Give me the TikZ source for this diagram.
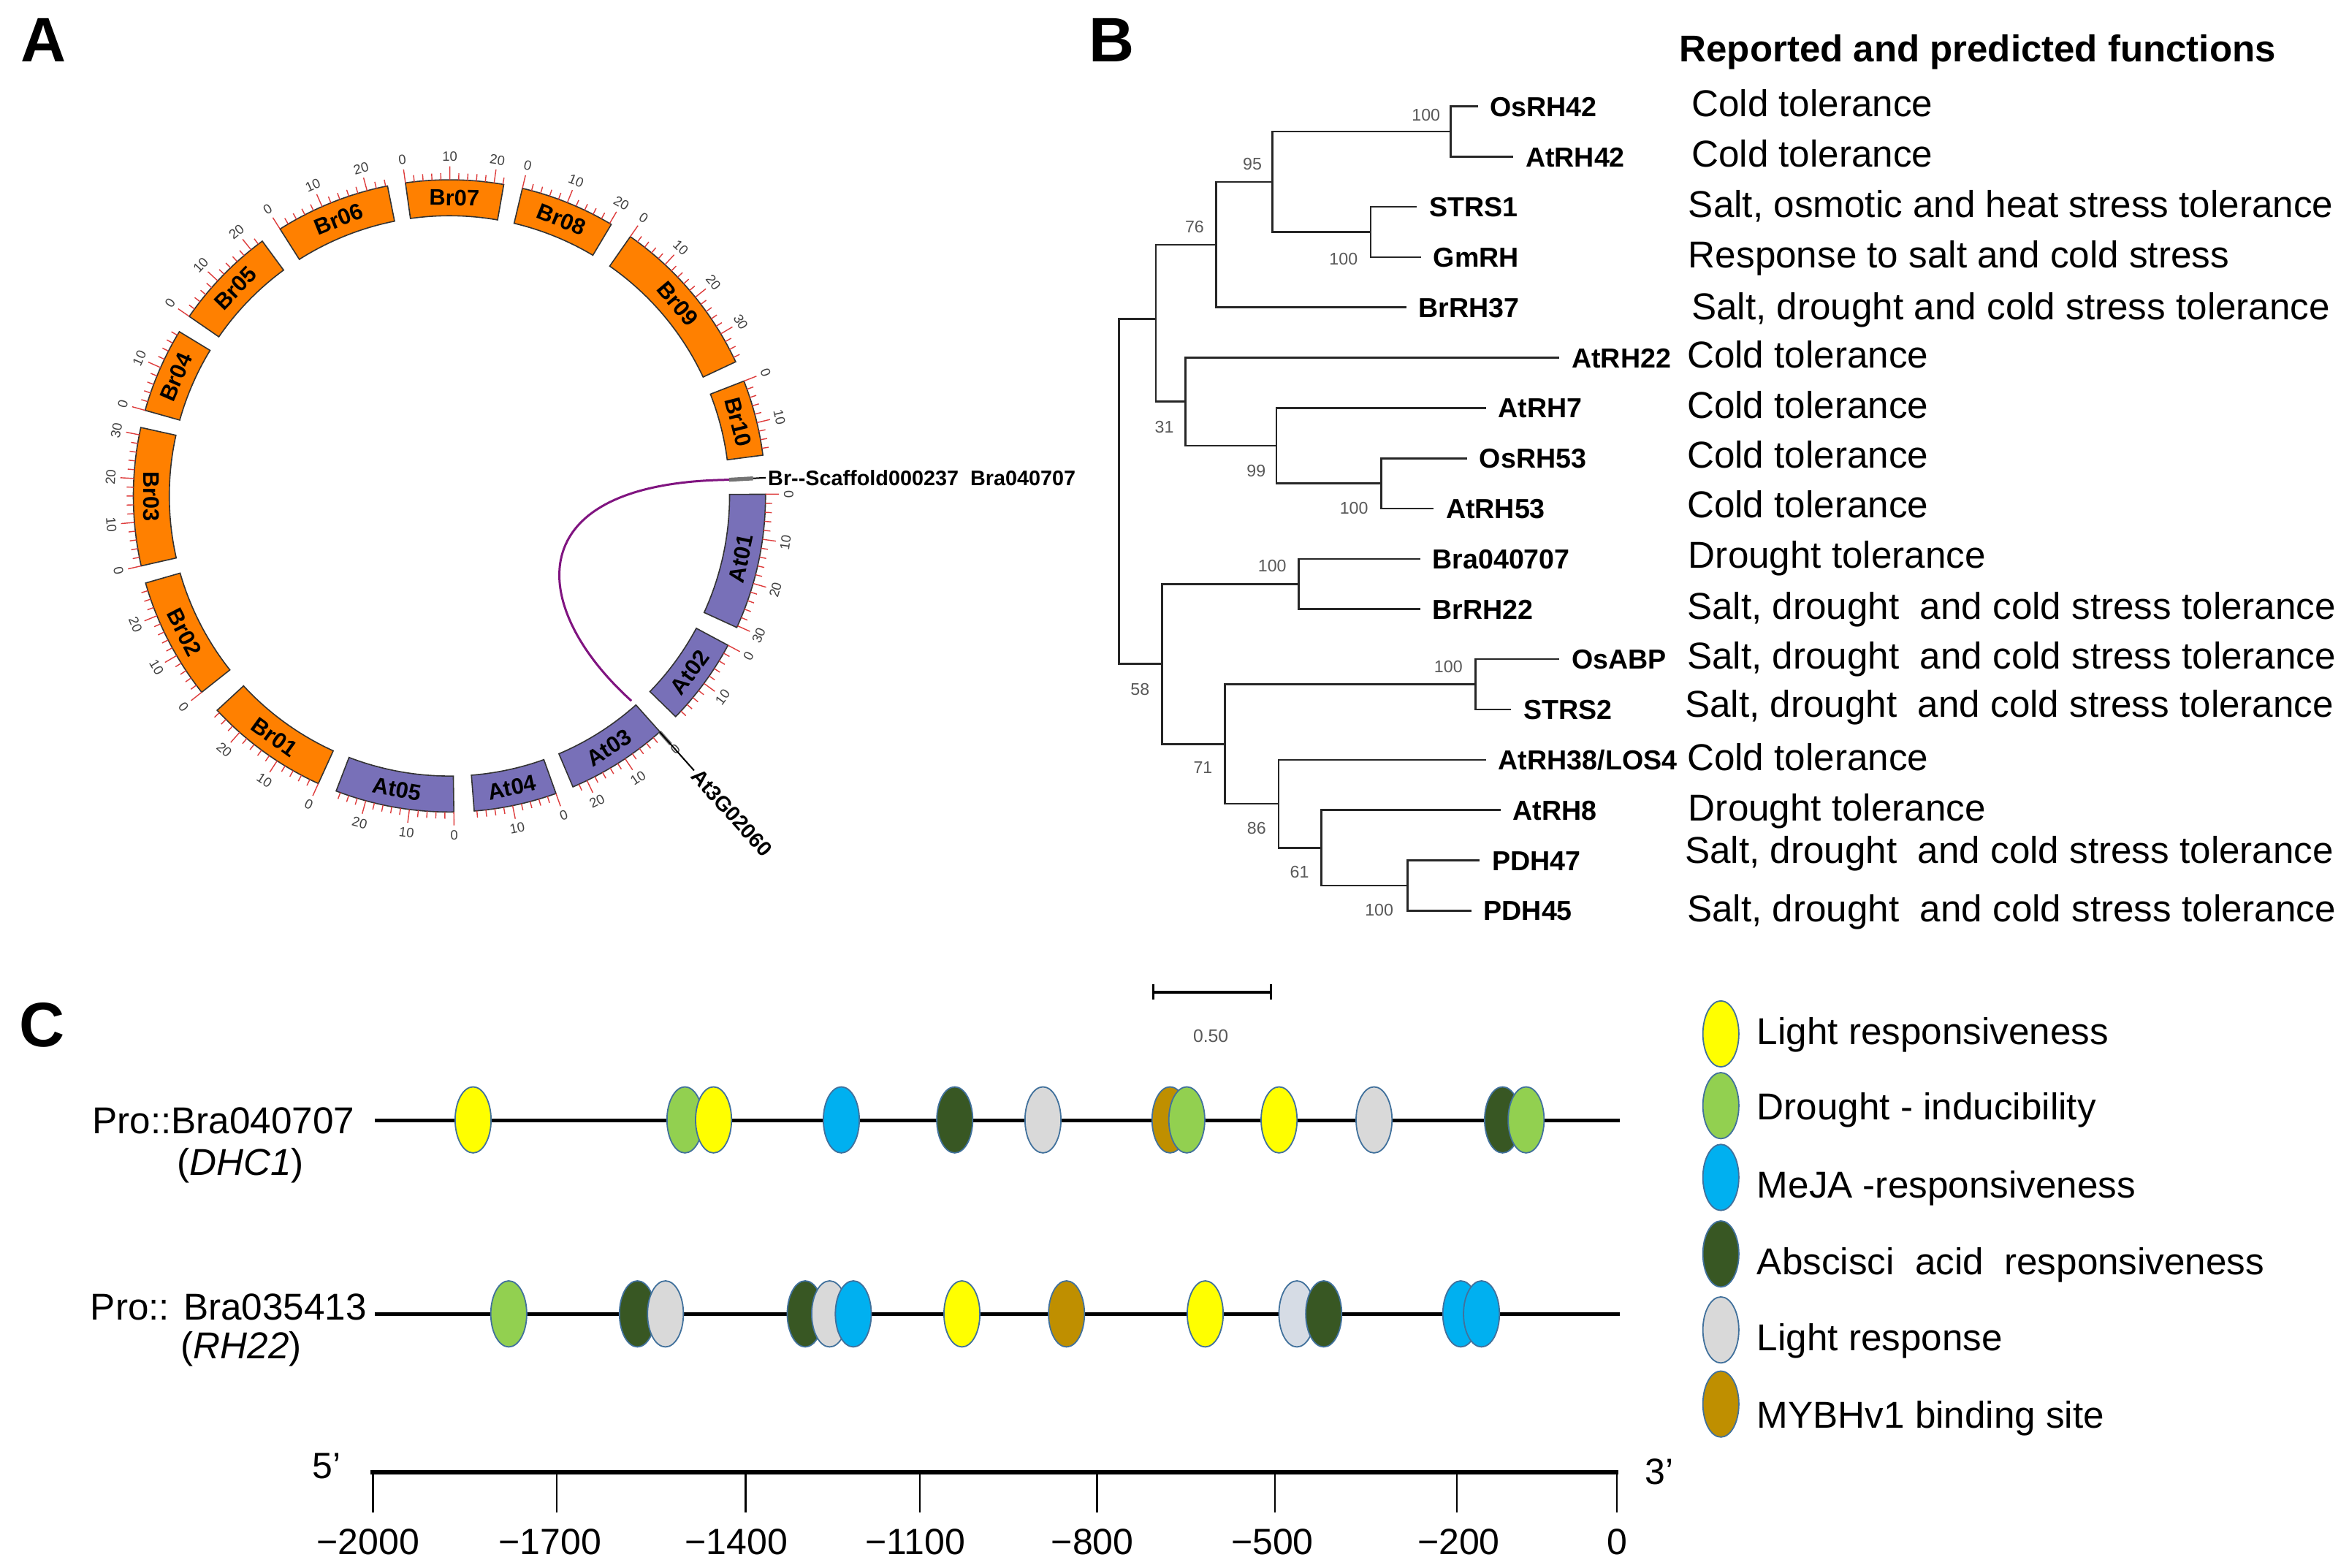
\documentclass[tikz,border=0pt]{standalone}
\usepackage{fontspec}
\setmainfont{Liberation Sans}
\usetikzlibrary{shapes.geometric}
\definecolor{brc}{RGB}{255,128,0}
\definecolor{atc}{RGB}{120,112,184}
\definecolor{linkc}{RGB}{128,20,128}
\definecolor{tickc}{RGB}{222,60,60}
\definecolor{cyel}{RGB}{255,255,0}
\definecolor{cgrn}{RGB}{146,208,80}
\definecolor{cblu}{RGB}{0,176,240}
\definecolor{cdkg}{RGB}{56,87,35}
\definecolor{cgry}{RGB}{217,217,217}
\definecolor{cbgr}{RGB}{214,220,229}
\definecolor{cbrn}{RGB}{191,143,0}
\definecolor{eoutl}{RGB}{65,113,156}
\begin{document}
\begin{tikzpicture}[x=0.5126pt,y=-0.5126pt,
  panel/.style={font=\fontsize{21.5}{24}\selectfont\bfseries, inner sep=0pt},
  chrbox/.style={draw=black!80, line width=0.4pt},
  chrname/.style={font=\fontsize{7.7}{8}\selectfont\bfseries, inner sep=0pt},
  tickmark/.style={draw=tickc, line width=0.35pt},
  ticklab/.style={font=\fontsize{4.6}{5}\selectfont, text=black!75, inner sep=0pt},
  genelab/.style={font=\fontsize{7.2}{8}\selectfont\bfseries, inner sep=0.6pt, anchor=west},
  leaf/.style={font=\fontsize{9.4}{10}\selectfont\bfseries, anchor=west, inner xsep=4pt, inner ysep=0pt, text height=6.8pt, text depth=0pt},
  boot/.style={font=\fontsize{5.8}{6}\selectfont, text=black!65, inner sep=0pt},
  func/.style={font=\fontsize{12.8}{14}\selectfont, anchor=west, inner sep=0pt, text height=9.2pt, text depth=0pt},
  branch/.style={line width=0.65pt, draw=black!85},
  elem/.style={ellipse, draw=eoutl, line width=0.45pt, minimum width=12.3pt, minimum height=22.6pt, inner sep=0pt},
  ctext/.style={font=\fontsize{12.8}{14}\selectfont, inner sep=0pt, text height=9.2pt, text depth=0pt},
  axlab/.style={font=\fontsize{12.5}{14}\selectfont, inner sep=0pt, text height=9pt, text depth=0pt},
  prom/.style={line width=1.3pt},
]
\useasboundingbox[fill=white] (0,0) rectangle (1568,1046.6);

% panel letters
\node[panel] (labA) at (29,27) {A};
\node[panel] (labB) at (742,27) {B};
\node[panel] (labC) at (28,684) {C};

% ---------------- Panel A ----------------
\begin{scope}[shift={(300,331)}]
\foreach \cn/\ca/\cb/\cl/\ct/\cm/\ccol in {
  Br07/262.0/279.9/22.2/22/20/brc,
  Br08/283.35/300.8/20.4/20/20/brc,
  Br09/304.9/334.9/37.1/36/30/brc,
  Br10/338.7/352.6/17.6/16/10/brc,
  At01/359.7/384.6/30.4/30/30/atc,
  At02/388.2/404.3/19.7/18/10/atc,
  At03/408.26/427.0/23.5/22/20/atc,
  At04/430.3/445.5/18.6/18/10/atc,
  At05/449.2/471.0/27.0/26/20/atc,
  Br01/474.5/497.3/26.7/26/20/brc,
  Br02/501.6/524.0/27.8/26/20/brc,
  Br03/527.2/552.5/31.7/30/30/brc,
  Br04/555.7/571.3/18.9/18/10/brc,
  Br05/574.6/593.7/23.1/22/20/brc,
  Br06/597.6/618.7/24.4/24/20/brc}{
  \pgfmathsetmacro\cmid{(\ca+\cb)/2}
  \pgfmathsetmacro\cmm{mod(\cmid,360)}
  \pgfmathsetmacro\crot{\cmm>=180 ? -\cmm-90 : 90-\cmm}
  \draw[chrbox, fill=\ccol] (\ca:187) -- (\ca:211) arc[start angle=\ca, end angle=\cb, radius=211]
     -- (\cb:187) arc[start angle=\cb, end angle=\ca, radius=187] -- cycle;
  \node[chrname, rotate=\crot] (chr\cn) at (\cmid:199) {\cn};
  \foreach \k in {0,2,...,\ct}{
    \pgfmathsetmacro\tang{\ca+(\cb-\ca)*\k/\cl}
    \pgfmathsetmacro\tlen{mod(\k,10)==0 ? 220 : 215.5}
    \draw[tickmark] (\tang:211) -- (\tang:\tlen);
  }
  \foreach \k in {0,10,...,\cm}{
    \pgfmathsetmacro\tang{\ca+(\cb-\ca)*\k/\cl}
    \pgfmathsetmacro\tm{mod(\tang,360)}
    \pgfmathsetmacro\trot{\tm>=180 ? -\tm-90 : 90-\tm}
    \node[ticklab, rotate=\trot] (tl\cn-\k) at (\tang:226.5) {\k};
  }
}
% scaffold and gene labels
\coordinate (scIn) at (356.7:187);
\coordinate (scMid) at (356.7:203);
\coordinate (scOut) at (356.7:211.5);
\draw[line width=1.35pt, draw=black!55] (scIn) -- (scMid);
\draw[line width=0.5pt] (scMid) -- (scOut);
\node[genelab] (scLab) at (scOut) {Br-{}-Scaffold000237\ \ Bra040707};
\coordinate (atIn) at (48.4:183);
\coordinate (atOut) at (48.3:211);
\coordinate (atGr) at (48.3:222);
\coordinate (atEnd) at (48.3:245.5);
\draw[line width=1.2pt, draw=black!50] (atOut) -- (atGr);
\draw[line width=0.5pt] (atOut) -- (atEnd);
\node[genelab, rotate=-48.3] (atLab) at (atEnd) {At3G02060};
\end{scope}
\draw[linkc, line width=0.75pt] (scIn) .. controls (345,322) and (352,405) .. (atIn);

% ---------------- Panel B ----------------
\coordinate (nA) at (968.2,87.8);
\coordinate (nB) at (915.0,154.9);
\coordinate (nC) at (849.2,121.4);
\coordinate (nD) at (811.9,163.3);
\coordinate (nE) at (922.0,322.6);
\coordinate (nF) at (852.0,297.5);
\coordinate (nG) at (791.2,268.1);
\coordinate (nH) at (771.6,213.0);
\coordinate (nI) at (866.8,389.8);
\coordinate (nJ) at (985.0,456.8);
\coordinate (nK) at (939.6,591.0);
\coordinate (nL) at (881.9,565.9);
\coordinate (nM) at (853.4,536.5);
\coordinate (nN) at (817.5,496.7);
\coordinate (nO) at (775.6,443.2);
\coordinate (nR) at (747.0,330.0);

\node[leaf] (t1) at (986.4,71.0) {OsRH42};
\node[leaf] (t2) at (1010.2,104.6) {AtRH42};
\node[leaf] (t3) at (945.8,138.1) {STRS1};
\node[leaf] (t4) at (948.6,171.7) {GmRH};
\node[leaf] (t5) at (938.8,205.2) {BrRH37};
\node[leaf] (t6) at (1041.0,238.8) {AtRH22};
\node[leaf] (t7) at (992.0,272.3) {AtRH7};
\node[leaf] (t8) at (979.4,305.9) {OsRH53};
\node[leaf] (t9) at (957.0,339.4) {AtRH53};
\node[leaf] (t10) at (948.0,373.0) {Bra040707};
\node[leaf] (t11) at (948.0,406.5) {BrRH22};
\node[leaf] (t12) at (1041.0,440.0) {OsABP};
\node[leaf] (t13) at (1008.7,473.6) {STRS2};
\node[leaf] (t14) at (992.0,507.2) {AtRH38/LOS4};
\node[leaf] (t15) at (1001.7,540.7) {AtRH8};
\node[leaf] (t16) at (987.8,574.3) {PDH47};
\node[leaf] (t17) at (982.2,607.8) {PDH45};

\draw[branch] (nA) |- (t1.west);
\draw[branch] (nA) |- (t2.west);
\draw[branch] (nB) |- (t3.west);
\draw[branch] (nB) |- (t4.west);
\draw[branch] (nC) |- (nA);
\draw[branch] (nC) |- (nB);
\draw[branch] (nD) |- (nC);
\draw[branch] (nD) |- (t5.west);
\draw[branch] (nE) |- (t8.west);
\draw[branch] (nE) |- (t9.west);
\draw[branch] (nF) |- (t7.west);
\draw[branch] (nF) |- (nE);
\draw[branch] (nG) |- (t6.west);
\draw[branch] (nG) |- (nF);
\draw[branch] (nH) |- (nD);
\draw[branch] (nH) |- (nG);
\draw[branch] (nI) |- (t10.west);
\draw[branch] (nI) |- (t11.west);
\draw[branch] (nJ) |- (t12.west);
\draw[branch] (nJ) |- (t13.west);
\draw[branch] (nK) |- (t16.west);
\draw[branch] (nK) |- (t17.west);
\draw[branch] (nL) |- (t15.west);
\draw[branch] (nL) |- (nK);
\draw[branch] (nM) |- (t14.west);
\draw[branch] (nM) |- (nL);
\draw[branch] (nN) |- (nJ);
\draw[branch] (nN) |- (nM);
\draw[branch] (nO) |- (nI);
\draw[branch] (nO) |- (nN);
\draw[branch] (nR) |- (nH);
\draw[branch] (nR) |- (nO);

\node[boot] (b1) at (951.9,76.8) {100};
\node[boot] (b2) at (836.0,109.6) {95};
\node[boot] (b3) at (896.8,172.9) {100};
\node[boot] (b4) at (797.4,151.6) {76};
\node[boot] (b5) at (777.2,285.1) {31};
\node[boot] (b6) at (838.5,314.5) {99};
\node[boot] (b7) at (903.8,339.4) {100};
\node[boot] (b8) at (849.2,377.5) {100};
\node[boot] (b9) at (761.0,460.3) {58};
\node[boot] (b10) at (966.8,445.0) {100};
\node[boot] (b11) at (803.0,512.5) {71};
\node[boot] (b12) at (838.8,552.8) {86};
\node[boot] (b13) at (867.4,582.2) {61};
\node[boot] (b14) at (920.6,607.2) {100};

% scale bar
\coordinate (sbL) at (769.8,662.5);
\coordinate (sbR) at (848.2,662.5);
\draw[line width=1pt] (sbL) -- (sbR);
\draw[line width=0.7pt] ([yshift=2.9pt]sbL) -- ([yshift=-2.4pt]sbL);
\draw[line width=0.7pt] ([yshift=2.9pt]sbR) -- ([yshift=-2.4pt]sbR);
\node[boot, font=\fontsize{6.2}{7}\selectfont] (sbLab) at (808.2,691.5) {0.50};

% functions
\node[func, font=\fontsize{12.75}{14}\selectfont\bfseries] (fh) at (1120.7,32.3) {Reported and predicted functions};
\node[func] (f1) at (1128.8,68.7) {Cold tolerance};
\node[func] (f2) at (1128.8,102.3) {Cold tolerance};
\node[func] (f3) at (1126.7,136.3) {Salt, osmotic and heat stress tolerance};
\node[func] (f4) at (1126.7,169.8) {Response to salt and cold stress};
\node[func] (f5) at (1128.8,204.2) {Salt, drought and cold stress tolerance};
\node[func] (f6) at (1125.8,236.5) {Cold tolerance};
\node[func] (f7) at (1125.8,270.1) {Cold tolerance};
\node[func] (f8) at (1125.8,303.3) {Cold tolerance};
\node[func] (f9) at (1125.8,336.8) {Cold tolerance};
\node[func] (f10) at (1126.7,370.4) {Drought tolerance};
\node[func] (f11) at (1125.8,404.3) {Salt, drought\ \ and cold stress tolerance};
\node[func] (f12) at (1125.8,437.5) {Salt, drought\ \ and cold stress tolerance};
\node[func] (f13) at (1124.3,469.8) {Salt, drought\ \ and cold stress tolerance};
\node[func] (f14) at (1125.8,505.4) {Cold tolerance};
\node[func] (f15) at (1126.7,539.0) {Drought tolerance};
\node[func] (f16) at (1124.3,567.3) {Salt, drought\ \ and cold stress tolerance};
\node[func] (f17) at (1125.8,606.5) {Salt, drought\ \ and cold stress tolerance};

% ---------------- Panel C ----------------
\node[ctext, anchor=east] (pr1) at (237,747.5) {Pro::Bra040707};
\node[ctext] (pr1b) at (160.5,775.5) {(\textit{DHC1})};
\node[ctext, anchor=east] (pr2) at (245,872) {Pro:: Bra035413};
\node[ctext] (pr2b) at (161,898) {(\textit{RH22})};
\coordinate (r1s) at (250.1,747.8);
\coordinate (r1e) at (1081.4,747.8);
\coordinate (r2s) at (250.1,877);
\coordinate (r2e) at (1081.4,877);
\draw[prom] (r1s) -- (r1e);
\draw[prom] (r2s) -- (r2e);
\foreach \ex/\ec [count=\i] in {315.8/cyel,457.2/cgrn,476.3/cyel,561.6/cblu,637.3/cdkg,696.2/cgry,781.0/cbrn,792.2/cgrn,853.8/cyel,917.2/cgry,1003.0/cdkg,1018.7/cgrn}
  \node[elem, fill=\ec] (ea\i) at (\ex,747.5) {};
\foreach \ex/\ec [count=\i] in {339.6/cgrn,425.5/cdkg,444.2/cgry,537.5/cdkg,553.8/cgry,569.6/cblu,642.1/cyel,711.9/cbrn,804.5/cyel,865.7/cbgr,883.6/cdkg,975.1/cblu,988.9/cblu}
  \node[elem, fill=\ec] (eb\i) at (\ex,877) {};

% legend
\node[elem, fill=cyel] (lg1) at (1148.7,690.1) {};
\node[elem, fill=cgrn] (lg2) at (1148.7,738.0) {};
\node[elem, fill=cblu] (lg3) at (1148.7,785.9) {};
\node[elem, fill=cdkg] (lg4) at (1148.7,837.0) {};
\node[elem, fill=cgry] (lg5) at (1148.7,887.7) {};
\node[elem, fill=cbrn] (lg6) at (1148.7,937.2) {};
\node[ctext, anchor=west] (lt1) at (1172.5,688.4) {Light responsiveness};
\node[ctext, anchor=west] (lt2) at (1172.5,738.5) {Drought - inducibility};
\node[ctext, anchor=west] (lt3) at (1172.5,790.8) {MeJA -responsiveness};
\node[ctext, anchor=west] (lt4) at (1172.5,841.9) {Abscisci\ \ acid\ \ responsiveness};
\node[ctext, anchor=west] (lt5) at (1172.5,892.4) {Light response};
\node[ctext, anchor=west] (lt6) at (1172.5,944.3) {MYBHv1 binding site};

% axis
\coordinate (axL) at (247.5,982.7);
\coordinate (axR) at (1080.2,982.7);
\draw[line width=1.7pt] (axL) -- (axR);
\foreach \tx/\lx/\lab [count=\i] in {248.9/245.8/−2000,371.5/367.1/−1700,497.8/491.6/−1400,614.1/611.0/−1100,732.3/729.2/−800,851.1/849.3/−500,972.4/973.7/−200,1079.4/1079.4/0}{
  \coordinate (axt\i) at (\tx,983);
  \coordinate (axb\i) at (\tx,1009.5);
  \draw[line width=0.6pt] (axt\i) -- (axb\i);
  \node[axlab] (axl\i) at (\lx,1029) {\lab};
}
\node[axlab] (five) at (218,978) {5’};
\node[axlab] (three) at (1107.5,982) {3’};
\end{tikzpicture}
\end{document}
